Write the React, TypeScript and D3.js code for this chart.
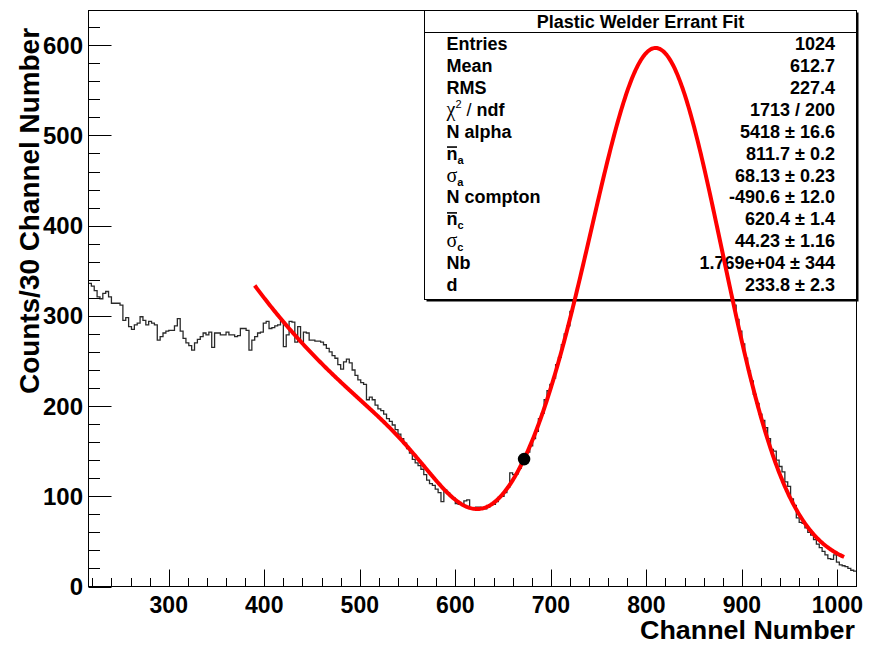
import React from 'react';
import * as d3 from 'd3';

// Spectrum binning: 3 channels per bin starting at channel 216
const binStart = 216;
const binWidth = 3;
const counts = [
  336, 333, 328, 321, 319, 325, 327, 321, 314, 314,
  314, 312, 295, 298, 288, 285, 290, 292, 299, 295,
  290, 294, 292, 290, 273, 277, 281, 283, 284, 284,
  289, 297, 283, 275, 270, 267, 262, 270, 274, 277,
  281, 279, 282, 265, 281, 281, 279, 279, 282, 279,
  279, 277, 278, 286, 286, 284, 262, 273, 277, 281,
  282, 292, 294, 286, 287, 289, 290, 294, 266, 279,
  294, 293, 271, 288, 271, 282, 281, 273, 273, 272,
  272, 271, 268, 264, 260, 256, 253, 246, 241, 249,
  252, 248, 240, 234, 229, 226, 224, 207, 210, 207,
  201, 197, 195, 191, 186, 183, 179, 174, 169, 164,
  159, 153, 148, 141, 137, 134, 130, 124, 118, 114,
  112, 108, 104, 94, 107, 104, 100, 98, 92, 91,
  91, 95, 96, 87, 87, 88, 88, 86, 86, 88,
  90, 91, 94, 99, 100, 104, 110, 126, 124, 125,
  131, 137, 143, 149, 156, 164, 172, 186, 192, 207,
  217, 224, 231, 246, 254, 268, 280, 289, 305, 318,
  327, 344, 355, 371, 382, 398, 408, 425, 436, 452,
  462, 478, 487, 502, 511, 526, 531, 544, 550, 563,
  567, 577, 578, 588, 587, 596, 593, 608, 596, 598,
  591, 592, 584, 583, 572, 569, 556, 550, 536, 531,
  518, 508, 491, 482, 465, 457, 438, 428, 409, 398,
  380, 368, 350, 338, 327, 312, 296, 283, 269, 253,
  239, 228, 213, 203, 191, 184, 176, 164, 152, 150,
  140, 133, 127, 116, 111, 97, 90, 76, 71, 70,
  65, 60, 57, 52, 47, 43, 39, 35, 31, 30,
  35, 27, 24, 23, 22, 20, 18, 17,
];

const xTickLabels = [300, 400, 500, 600, 700, 800, 900, 1000];
const yTickLabels = [0, 100, 200, 300, 400, 500, 600];

// Fit parameters (alpha peak + Compton dip + exponential background)
const nAlpha = 5418;
const meanAlpha = 811.7;
const sigmaAlpha = 68.13;
const nCompton = -490.6;
const meanCompton = 620.4;
const sigmaCompton = 44.23;
const nBackground = 1.769e4;
const decayLength = 233.8;
// amplitudes are quoted per 10 counts
const amplitudeUnit = 0.1;
const fitRange = [390, 1007];
const markerChannel = 672;

const statNames = ['Entries', 'Mean', 'RMS', 'chi2', 'N alpha', 'nbar_a', 'sigma_a', 'N compton', 'nbar_c', 'sigma_c', 'Nb', 'd'];
const statValues = ['1024', '612.7', '227.4', '1713 / 200', '5418 \u00b1 16.6', '811.7 \u00b1 0.2', '68.13 \u00b1 0.23', '-490.6 \u00b1 12.0', '620.4 \u00b1 1.4', '44.23 \u00b1 1.16', '1.769e+04 \u00b1 344', '233.8 \u00b1 2.3'];

const gauss = (c: number, n: number, m: number, s: number) => n * Math.exp(-0.5 * ((c - m) / s) ** 2);
const fitModel = (c: number) =>
  amplitudeUnit *
  (gauss(c, nAlpha, meanAlpha, sigmaAlpha) +
    gauss(c, nCompton, meanCompton, sigmaCompton) +
    nBackground * Math.exp(-c / decayLength));

const SANS = '"Liberation Sans", Arial, Helvetica, sans-serif';
const SERIF = '"Liberation Serif", "DejaVu Serif", serif';

function StatLabel({ name, x, y }: { name: string; x: number; y: number }) {
  if (name === 'chi2') {
    return (
      <text x={x} y={y} fontFamily={SANS} fontWeight="bold" fontSize={18}>
        <tspan fontFamily={SERIF} fontWeight="normal" fontSize={20}>χ</tspan>
        <tspan fontSize={11} fontWeight="normal" dy={-8}>2</tspan>
        <tspan dy={8} fontWeight="normal"> / </tspan>
        <tspan>ndf</tspan>
      </text>
    );
  }
  if (name.startsWith('nbar') || name.startsWith('sigma')) {
    const sub = name.slice(-1);
    const isN = name.startsWith('nbar');
    return (
      <g>
        <text x={x} y={y} fontFamily={isN ? SANS : SERIF} fontWeight={isN ? 'bold' : 'normal'} fontSize={isN ? 18 : 20}>
          {isN ? 'n' : 'σ'}
          <tspan fontFamily={SANS} fontWeight="bold" fontSize={11} dy={4}>{sub}</tspan>
        </text>
        {isN && <line x1={x + 0.5} x2={x + 10.5} y1={y - 12.5} y2={y - 12.5} stroke="#000" strokeWidth={1.6} />}
      </g>
    );
  }
  return (
    <text x={x} y={y} fontFamily={SANS} fontWeight="bold" fontSize={18}>
      {name}
    </text>
  );
}

export default function App() {
  const W = 870;
  const H = 645;
  const left = 88.5, right = 856.5, top = 10.5, bottom = 586.5;
  const x = d3.scaleLinear().domain([216, 1020]).range([left, right]);
  const y = d3.scaleLinear().domain([0, 638.5]).range([bottom, top]);

  const edges = counts.map((c, i) => [binStart + i * binWidth, c] as [number, number]);
  edges.push([binStart + counts.length * binWidth, counts[counts.length - 1]]);
  const histPath = d3
    .line<[number, number]>()
    .x((d) => x(d[0]))
    .y((d) => y(d[1]))
    .curve(d3.curveStepAfter)(edges) as string;

  const fitPts = d3.range(fitRange[0], fitRange[1] + 0.001, 1).map((c) => [c, fitModel(c)] as [number, number]);
  const fitPath = d3
    .line<[number, number]>()
    .x((d) => x(d[0]))
    .y((d) => y(d[1]))
    .curve(d3.curveLinear)(fitPts) as string;

  const yMinor = d3.range(0, 640, 20).filter((v) => v % 100 !== 0);
  const xMinor = d3.range(220, 1020, 20).filter((v) => v % 100 !== 0);

  const box = { x0: 424.5, y0: 10.5, x1: 856.5, y1: 299.5 };
  const rowY = (i: number) => 49.8 + i * 21.95;

  return (
    <svg width={W} height={H} style={{ position: 'absolute', left: 0, top: 0, background: '#fff' }}>
      <defs>
        <clipPath id="frameClip">
          <rect x={left} y={top} width={right - left} height={bottom - top} />
        </clipPath>
      </defs>
      <rect x={0} y={0} width={W} height={H} fill="#fff" />

      {/* histogram */}
      <path d={histPath} fill="none" stroke="#2a2a2a" strokeWidth={1.3} clipPath="url(#frameClip)" />

      {/* frame */}
      <rect x={left} y={top} width={right - left} height={bottom - top} fill="none" stroke="#000" strokeWidth={1} />

      {/* y axis ticks */}
      {yTickLabels.map((v) => (
        <line key={`ym${v}`} x1={left} x2={left + 23} y1={Math.round(y(v)) + 0.5} y2={Math.round(y(v)) + 0.5} stroke="#000" strokeWidth={1} />
      ))}
      {yMinor.map((v) => (
        <line key={`yn${v}`} x1={left} x2={left + 11.5} y1={Math.round(y(v)) + 0.5} y2={Math.round(y(v)) + 0.5} stroke="#000" strokeWidth={1} />
      ))}
      {yTickLabels.map((v) => (
        <text key={`yl${v}`} x={83} y={y(v) + 8.5} textAnchor="end" fontFamily={SANS} fontWeight="bold" fontSize={24}>
          {v}
        </text>
      ))}

      {/* x axis ticks */}
      {xTickLabels.map((v) => (
        <line key={`xm${v}`} x1={Math.round(x(v)) + 0.5} x2={Math.round(x(v)) + 0.5} y1={bottom} y2={bottom - 17} stroke="#000" strokeWidth={1} />
      ))}
      {xMinor.map((v) => (
        <line key={`xn${v}`} x1={Math.round(x(v)) + 0.5} x2={Math.round(x(v)) + 0.5} y1={bottom} y2={bottom - 8.5} stroke="#000" strokeWidth={1} />
      ))}
      {xTickLabels.map((v) => (
        <text key={`xl${v}`} x={x(v)} y={613} textAnchor="middle" fontFamily={SANS} fontWeight="bold" fontSize={23}>
          {v}
        </text>
      ))}

      {/* axis titles */}
      <text x={855} y={638.5} textAnchor="end" fontFamily={SANS} fontWeight="bold" fontSize={25.5} textLength={215} lengthAdjust="spacingAndGlyphs">
        Channel Number
      </text>
      <text transform="translate(39,28) rotate(-90)" textAnchor="end" fontFamily={SANS} fontWeight="bold" fontSize={27} textLength={366} lengthAdjust="spacingAndGlyphs">
        Counts/30 Channel Number
      </text>

      {/* statistics box */}
      <rect x={box.x0 + 2} y={box.y0 + 2} width={box.x1 - box.x0} height={box.y1 - box.y0} fill="#000" />
      <rect x={box.x0} y={box.y0} width={box.x1 - box.x0} height={box.y1 - box.y0} fill="#fff" stroke="#000" strokeWidth={1} />
      <line x1={box.x0} x2={box.x1} y1={32.5} y2={32.5} stroke="#000" strokeWidth={1} />
      <text x={(box.x0 + box.x1) / 2} y={27.5} textAnchor="middle" fontFamily={SANS} fontWeight="bold" fontSize={18}>
        Plastic Welder Errant Fit
      </text>
      {statNames.map((n, i) => (
        <StatLabel key={n} name={n} x={446.5} y={rowY(i)} />
      ))}
      {statValues.map((v, i) => (
        <text key={`sv${i}`} x={835} y={rowY(i)} textAnchor="end" fontFamily={SANS} fontWeight="bold" fontSize={18}>
          {v}
        </text>
      ))}

      {/* fit curve */}
      <path d={fitPath} fill="none" stroke="#ff0000" strokeWidth={4} />
      <circle cx={x(markerChannel)} cy={y(fitModel(markerChannel))} r={6.3} fill="#000" />
    </svg>
  );
}
